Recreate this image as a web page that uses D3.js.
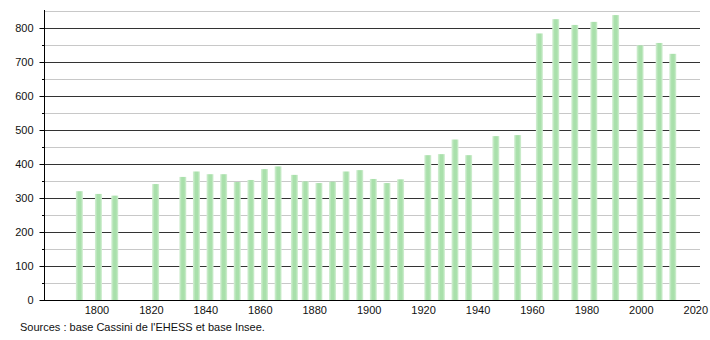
<!DOCTYPE html>
<html>
<head>
<meta charset="utf-8">
<script src="https://cdn.jsdelivr.net/npm/d3@7"></script>
<style>
  body { margin: 0; background: #fff; }
  svg text { font-family: "Liberation Sans", Arial, sans-serif; font-size: 11px; fill: #111; }
</style>
</head>
<body>
<div id="chart"></div>
<script>
// census years and population
var years = [1793, 1800, 1806, 1821, 1831, 1836, 1841, 1846, 1851, 1856, 1861, 1866,
    1872, 1876, 1881, 1886, 1891, 1896, 1901, 1906, 1911, 1921, 1926, 1931, 1936,
    1946, 1954, 1962, 1968, 1975, 1982, 1990, 1999, 2006, 2011];
var population = [320, 312, 307, 341, 362, 378, 370, 370, 347, 353, 385, 393,
    368, 349, 344, 348, 378, 382, 356, 344, 355, 426, 429, 472, 426,
    482, 485, 784, 826, 809, 818, 838, 749, 756, 724];
var yTicks = [0, 100, 200, 300, 400, 500, 600, 700, 800];
var xTicks = [1800, 1820, 1840, 1860, 1880, 1900, 1920, 1940, 1960, 1980, 2000, 2020];
var source = "Sources : base Cassini de l'EHESS et base Insee.";

var width = 710, height = 340;
var margin = {top: 11, left: 44, right: 10, bottom: 40};

var svg = d3.select('#chart')
    .append('svg')
    .attr('width', width)
    .attr('height', height);

var x = d3.scaleLinear().domain([1780, 2021]).range([margin.left, width - margin.right]);
var y = d3.scaleLinear().domain([0, 850]).range([height - margin.bottom, margin.top]);

// soft edged bar fill
var grad = svg.append('defs').append('linearGradient')
    .attr('id', 'barfill')
    .attr('x1', '0%').attr('x2', '100%').attr('y1', '0%').attr('y2', '0%');
grad.append('stop').attr('offset', '0%').attr('stop-color', '#d6f0d6');
grad.append('stop').attr('offset', '35%').attr('stop-color', '#a9e0ab');
grad.append('stop').attr('offset', '70%').attr('stop-color', '#a9e0ab');
grad.append('stop').attr('offset', '100%').attr('stop-color', '#d6f0d6');

// grid: minor (50s) light, major (100s) dark
var minor = d3.range(50, 851, 100);
svg.append('g').selectAll('line')
    .data(minor).enter().append('line')
    .attr('x1', margin.left).attr('x2', width - margin.right)
    .attr('y1', d => y(d) + 0.5).attr('y2', d => y(d) + 0.5)
    .attr('stroke', '#c8c8c8');
svg.append('g').selectAll('line')
    .data(yTicks.slice(1)).enter().append('line')
    .attr('x1', margin.left).attr('x2', width - margin.right)
    .attr('y1', d => y(d) + 0.5).attr('y2', d => y(d) + 0.5)
    .attr('stroke', '#333');

var barW = 7;
svg.append('g').selectAll('rect')
    .data(years).enter().append('rect')
    .attr('x', d => x(d) - barW / 2)
    .attr('y', (d, i) => y(population[i]))
    .attr('width', barW)
    .attr('height', (d, i) => y(0) - y(population[i]))
    .attr('fill', 'url(#barfill)');

// y axis with minor ticks
var yAxis = svg.append('g')
    .attr('transform', 'translate(' + (margin.left + 0.5) + ',0)')
    .call(d3.axisLeft(y).tickValues(yTicks).tickSize(5).tickPadding(6).tickFormat(d3.format('d')));
yAxis.select('.domain').remove();
svg.append('g').selectAll('line')
    .data(minor.slice(0, -1)).enter().append('line')
    .attr('x1', margin.left - 2).attr('x2', margin.left)
    .attr('y1', d => y(d) + 0.5).attr('y2', d => y(d) + 0.5)
    .attr('stroke', '#000');
svg.append('line')
    .attr('x1', margin.left + 0.5).attr('x2', margin.left + 0.5)
    .attr('y1', margin.top - 1).attr('y2', y(0))
    .attr('stroke', '#000');

// x axis
var xAxis = svg.append('g')
    .attr('transform', 'translate(0,' + (y(0) + 0.5) + ')')
    .call(d3.axisBottom(x).tickValues(xTicks).tickSize(0).tickPadding(6).tickFormat(d3.format('d')));
xAxis.select('.domain').remove();
xAxis.selectAll('text').attr('dx', -2);
svg.append('line')
    .attr('x1', margin.left).attr('x2', width - margin.right)
    .attr('y1', y(0) + 0.5).attr('y2', y(0) + 0.5)
    .attr('stroke', '#000');

svg.append('text')
    .attr('x', 20).attr('y', 331)
    .text(source);
</script>
</body>
</html>
